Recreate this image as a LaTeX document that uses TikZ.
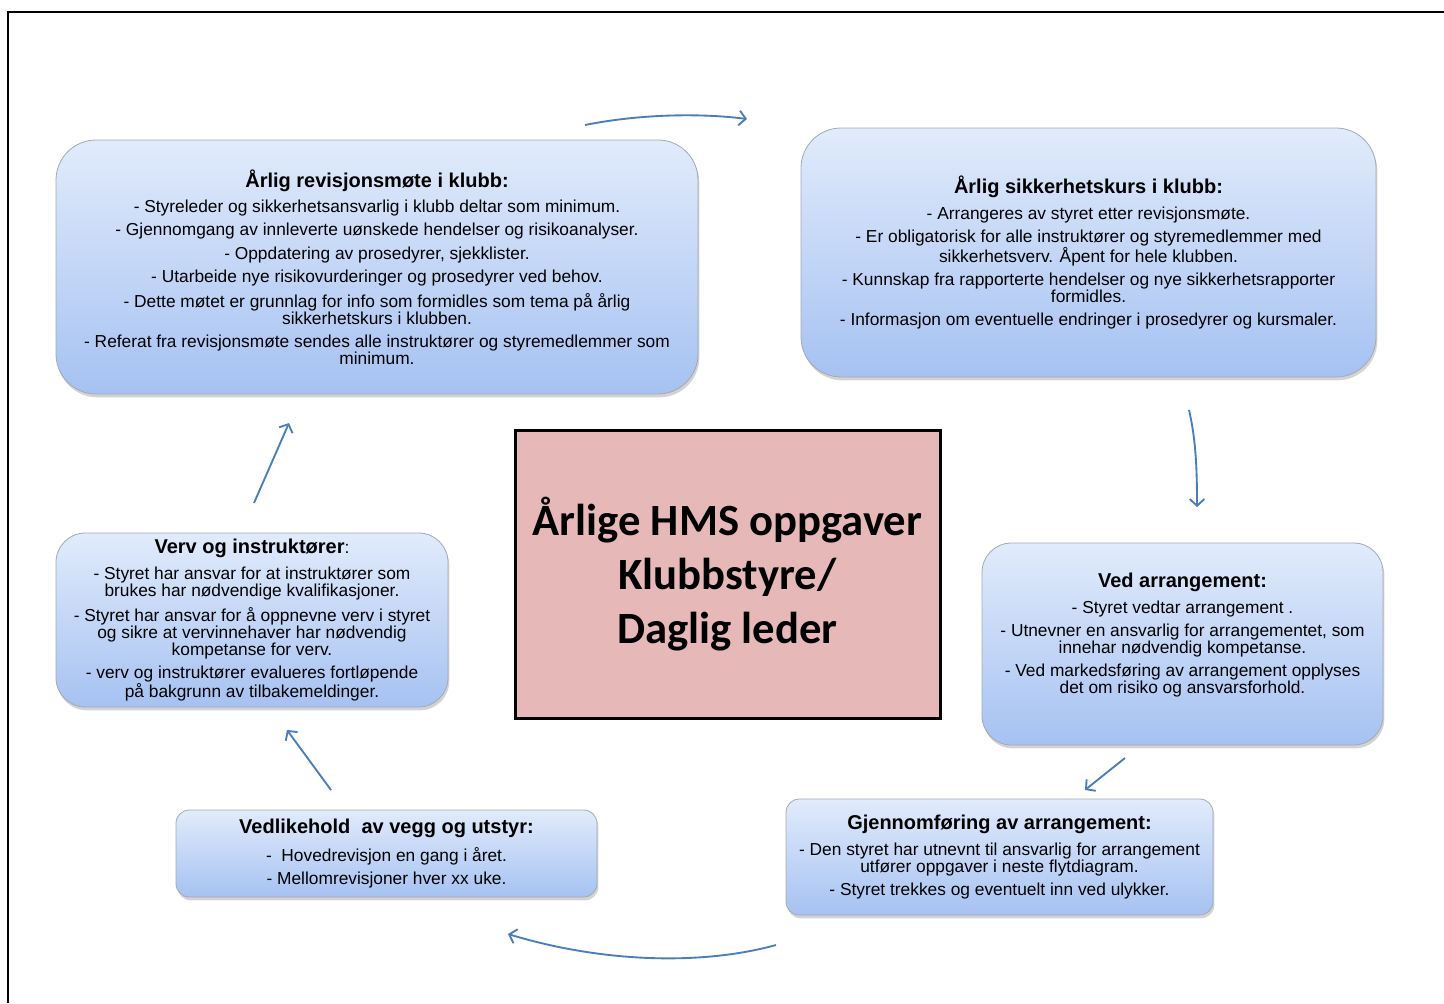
\documentclass[tikz,border=0pt]{standalone}
\usepackage{fontspec}
\setmainfont{Liberation Sans}
\newfontfamily\calibrifont{Carlito}
\usetikzlibrary{arrows.meta, positioning, shadows}
\definecolor{BoxTop}{HTML}{E1EBFB}
\definecolor{BoxBottom}{HTML}{A6C2F2}
\definecolor{BoxLine}{HTML}{A3A9B4}
\definecolor{CenterFill}{HTML}{E6B8B7}
\definecolor{ArrowBlue}{HTML}{4A7EBB}
\newcommand{\boxhead}[1]{{\bfseries\fontsize{15}{15}\selectfont #1}}

\begin{document}
\begin{tikzpicture}[x=0.75pt, y=-0.75pt, align=center,
  task/.style={draw=BoxLine, line width=0.6pt, rounded corners=#1, top color=BoxTop, bottom color=BoxBottom,
    drop shadow={shadow xshift=1pt, shadow yshift=-2.5pt, opacity=0.35}, inner sep=0pt,
    font=\fontsize{13}{12.75}\selectfont},
  task/.default=30pt,
  flow/.style={-{Straight Barb[length=5pt, width=11pt]}, ArrowBlue, line width=1.4pt}]
  \useasboundingbox (0,0) rectangle (1444,1003);
  \draw[line width=1.5pt] (8,1003) -- (8,12) -- (1444,12);

  \node (hms) at (727.5,574) [draw, line width=2.25pt, fill=CenterFill, minimum width=318.75pt, minimum height=216pt,
    font=\calibrifont\bfseries\fontsize{33.5}{40.5}\selectfont] {Årlige HMS oppgaver\\Klubbstyre/\\Daglig leder};

  \node (revisjon) at (377,267) [task, minimum width=481.5pt, minimum height=190.5pt]
    {\boxhead{Årlig revisjonsmøte i klubb:}\\[6.5pt]
     - Styreleder og sikkerhetsansvarlig i klubb deltar som minimum.\\[4.6pt]
     - Gjennomgang av innleverte uønskede hendelser og risikoanalyser.\\[4.6pt]
     - Oppdatering av prosedyrer, sjekklister.\\[4.6pt]
     - Utarbeide nye risikovurderinger og prosedyrer ved behov.\\[4.6pt]
     - Dette møtet er grunnlag for info som formidles som tema på årlig\\sikkerhetskurs i klubben.\\[4.6pt]
     - Referat fra revisjonsmøte sendes alle instruktører og styremedlemmer som\\minimum.};
  \node (kurs) at (1088.5,252.5) [task, minimum width=431.25pt, minimum height=186.75pt]
    {\boxhead{Årlig sikkerhetskurs i klubb:}\\[6.5pt]
     - Arrangeres av styret etter revisjonsmøte.\\[4.6pt]
     - Er obligatorisk for alle instruktører og styremedlemmer med\\sikkerhetsverv. Åpent for hele klubben.\\[4.6pt]
     - Kunnskap fra rapporterte hendelser og nye sikkerhetsrapporter\\formidles.\\[4.6pt]
     - Informasjon om eventuelle endringer i prosedyrer og kursmaler.};
  \node (ved) at (1182.5,644) [task=22pt, minimum width=300.75pt, minimum height=151.5pt]
    {\boxhead{Ved arrangement:}\\[6.5pt]
     - Styret vedtar arrangement .\\[4.6pt]
     - Utnevner en ansvarlig for arrangementet, som\\innehar nødvendig kompetanse.\\[4.6pt]
     - Ved markedsføring av arrangement opplyses\\det om risiko og ansvarsforhold.\\[3pt]};
  \node (gjennom) at (999.5,857) [task=10pt, minimum width=320.25pt, minimum height=87pt]
    {\boxhead{Gjennomføring av arrangement:}\\[7pt]
     - Den styret har utnevnt til ansvarlig for arrangement\\utfører oppgaver i neste flytdiagram.\\[4.6pt]
     - Styret trekkes og eventuelt inn ved ulykker.};
  \node (vedlikehold) at (386.5,853.5) [task=10pt, minimum width=315.75pt, minimum height=65.25pt]
    {\boxhead{Vedlikehold\ \ av vegg og utstyr:}\\[6.5pt]
     -\ \ Hovedrevisjon en gang i året.\\[4.6pt]
     - Mellomrevisjoner hver xx uke.};
  \node (verv) at (252,620) [task=22pt, minimum width=294pt, minimum height=130.5pt]
    {\boxhead{Verv og instruktører}:\\[6.5pt]
     - Styret har ansvar for at instruktører som\\brukes har nødvendige kvalifikasjoner.\\[4.6pt]
     - Styret har ansvar for å oppnevne verv i styret\\og sikre at vervinnehaver har nødvendig\\kompetanse for verv.\\[4.6pt]
     - verv og instruktører evalueres fortløpende\\på bakgrunn av tilbakemeldinger.};

  \coordinate (a1s) at (585,125);  \coordinate (a1e) at (747,119);
  \coordinate (a2s) at (1189,410); \coordinate (a2e) at (1197,507);
  \coordinate (a3s) at (1125,758); \coordinate (a3e) at (1085,790);
  \coordinate (a4s) at (776,945);  \coordinate (a4e) at (508,934);
  \coordinate (a5s) at (331,790);  \coordinate (a5e) at (287,730);
  \coordinate (a6s) at (254,503);  \coordinate (a6e) at (289,423);

  \draw[flow] (a1s) .. controls (640,114) and (700,113) .. (a1e);
  \draw[flow] (a2s) .. controls (1196,440) and (1197,470) .. (a2e);
  \draw[flow] (a3s) -- (a3e);
  \draw[flow] (a4s) .. controls (700,966) and (600,962) .. (a4e);
  \draw[flow] (a5s) -- (a5e);
  \draw[flow] (a6s) -- (a6e);
\end{tikzpicture}
\end{document}
